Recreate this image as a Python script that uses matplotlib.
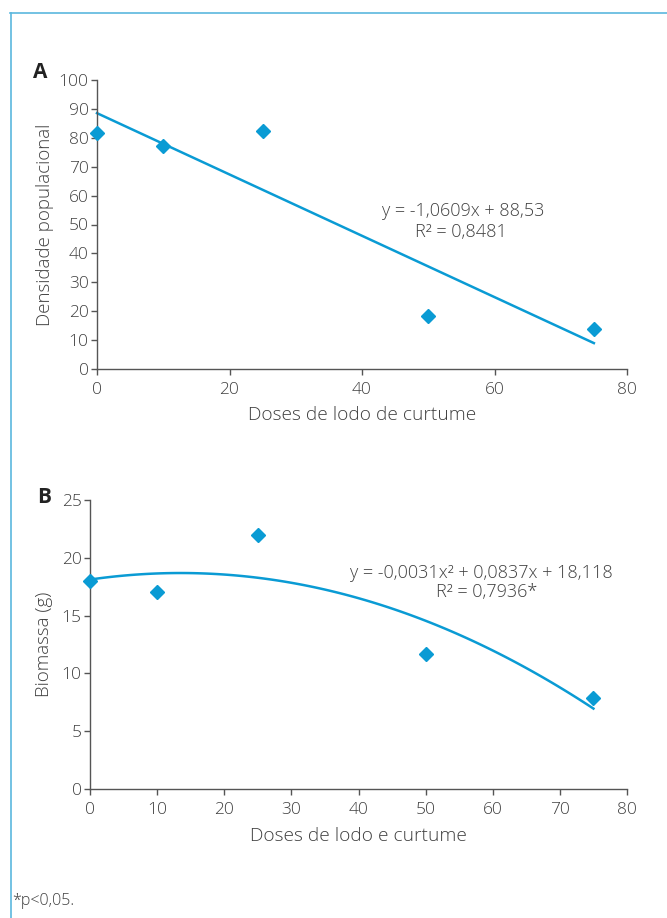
import numpy as np
import matplotlib.pyplot as plt
from matplotlib.lines import Line2D

# ----------------------------------------------------------
# Data
# ----------------------------------------------------------
doses = [0, 10, 25, 50, 75]
densidade = [81.6, 77.3, 82.4, 18.3, 13.7]
biomassa = [18.0, 17.0, 22.0, 11.65, 7.9]

# trend lines as printed on the chart
lin_coef = [-1.0609, 88.53]
quad_coef = [-0.0031, 0.0837, 18.118]
eq_a = ["y = -1,0609x + 88,53", "R² = 0,8481"]
eq_b = ["y = -0,0031x² + 0,0837x + 18,118", "R² = 0,7936*"]

xticks_a = [0, 20, 40, 60, 80]
yticks_a = [0, 10, 20, 30, 40, 50, 60, 70, 80, 90, 100]
xticks_b = [0, 10, 20, 30, 40, 50, 60, 70, 80]
yticks_b = [0, 5, 10, 15, 20, 25]

blue = "#0a9bd4"
txt = "#404040"
plt.rcParams["font.family"] = ["Open Sans", "DejaVu Sans"]
plt.rcParams["font.weight"] = 300
plt.rcParams["axes.labelweight"] = 300

W, H = 667, 918
fig = plt.figure(figsize=(W / 100, H / 100), dpi=100)


def fx(px):
    return px / W


def fy(py):
    return 1 - py / H


# frame lines (top + left)
fig.add_artist(Line2D([fx(10), 1], [fy(13)] * 2, color="#5bb8de", lw=1.2))
fig.add_artist(Line2D([fx(11)] * 2, [0, fy(13)], color="#5bb8de", lw=1.2))


def style(ax, xt, yt):
    for s in ["top", "right"]:
        ax.spines[s].set_visible(False)
    for s in ["left", "bottom"]:
        ax.spines[s].set_color("#555555")
        ax.spines[s].set_linewidth(1.0)
    ax.set_xticks(xt)
    ax.set_yticks(yt)
    ax.set_xlim(xt[0], xt[-1])
    ax.set_ylim(yt[0], yt[-1])
    ax.tick_params(direction="out", length=4, width=1, color="#555555",
                   labelsize=12.5, labelcolor=txt)
    ax.tick_params(axis="x", pad=5)
    ax.tick_params(axis="y", pad=2)


# ---------------- Panel A ----------------
axA = fig.add_axes([fx(97), fy(369), 530 / W, 289 / H])
style(axA, xticks_a, yticks_a)
xl = np.linspace(0, 75, 50)
axA.plot(xl, np.polyval(lin_coef, xl), color=blue, lw=1.8, clip_on=False)
axA.plot(doses, densidade, "D", color=blue, ms=6.8, clip_on=False, zorder=3)
axA.set_xlabel("Doses de lodo de curtume", fontsize=13.8, color=txt, labelpad=6)
axA.set_ylabel("Densidade populacional", fontsize=13.5, color=txt, labelpad=3)
fig.text(fx(463), fy(211), eq_a[0], fontsize=13, color=txt,
         ha="center", va="center")
fig.text(fx(461), fy(232), eq_a[1], fontsize=13, color=txt,
         ha="center", va="center")
fig.text(fx(33), fy(72), "A", fontsize=15, fontweight="bold",
         color="#222222", ha="left", va="center")

# ---------------- Panel B ----------------
axB = fig.add_axes([fx(90), fy(789), 537 / W, 289 / H])
style(axB, xticks_b, yticks_b)
xq = np.linspace(0, 75, 100)
axB.plot(xq, np.polyval(quad_coef, xq), color=blue, lw=1.8, clip_on=False)
axB.plot(doses, biomassa, "D", color=blue, ms=6.8, clip_on=False, zorder=3)
axB.set_xlabel("Doses de lodo e curtume", fontsize=13.8, color=txt, labelpad=7)
axB.set_ylabel("Biomassa (g)", fontsize=13.5, color=txt, labelpad=6)
fig.text(fx(481), fy(573), eq_b[0], fontsize=13, color=txt,
         ha="center", va="center")
fig.text(fx(487), fy(592), eq_b[1], fontsize=13, color=txt,
         ha="center", va="center")
fig.text(fx(37), fy(498), "B", fontsize=15, fontweight="bold",
         color="#222222", ha="left", va="center")

fig.text(fx(12), fy(901), "*p<0,05.", fontsize=11.5, color=txt,
         ha="left", va="center")

fig.savefig("out.png", dpi=100)
